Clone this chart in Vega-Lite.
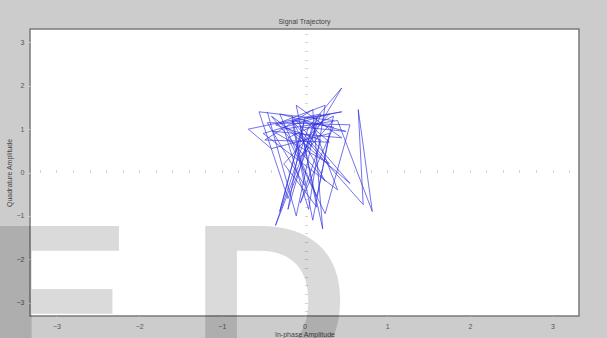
{
  "$schema": "https://vega.github.io/schema/vega-lite/v6.json",
  "width": 549,
  "height": 287,
  "autosize": "none",
  "padding": {"left": 30, "top": 29, "right": 28, "bottom": 22},
  "background": "#cccccc",
  "title": {"text": "Signal Trajectory", "fontSize": 7, "font": "Liberation Sans", "fontWeight": "normal", "color": "#444444", "offset": 4},
  "config": {
    "view": {"fill": "white", "stroke": "#7a7a7a", "strokeWidth": 1.5},
    "axis": {"labelFont": "Liberation Sans", "titleFont": "Liberation Sans", "labelFontSize": 7, "titleFontSize": 7, "titleFontWeight": "normal", "labelColor": "#555555", "titleColor": "#444444", "gridColor": "#e4e4e4", "gridWidth": 1, "domain": false, "tickColor": "#cfcfcf", "tickSize": 3}
  },
  "data": {"values": [
    {"i": 1, "I": -0.45, "Q": 1.40},
    {"i": 2, "I": -0.10, "Q": -1.00},
    {"i": 3, "I": 0.15, "Q": 1.25},
    {"i": 4, "I": -0.35, "Q": -1.22},
    {"i": 5, "I": 0.05, "Q": 1.05},
    {"i": 6, "I": 0.45, "Q": 1.95},
    {"i": 7, "I": -0.05, "Q": 0.35},
    {"i": 8, "I": 0.35, "Q": 1.20},
    {"i": 9, "I": -0.55, "Q": 1.40},
    {"i": 10, "I": -0.20, "Q": -0.60},
    {"i": 11, "I": 0.20, "Q": 1.35},
    {"i": 12, "I": -0.68, "Q": 1.00},
    {"i": 13, "I": -0.40, "Q": 0.55},
    {"i": 14, "I": 0.30, "Q": 0.90},
    {"i": 15, "I": 0.10, "Q": -1.10},
    {"i": 16, "I": -0.15, "Q": 1.30},
    {"i": 17, "I": 0.55, "Q": -0.25},
    {"i": 18, "I": -0.30, "Q": 1.15},
    {"i": 19, "I": 0.25, "Q": 1.55},
    {"i": 20, "I": 0.05, "Q": -0.85},
    {"i": 21, "I": -0.25, "Q": 1.00},
    {"i": 22, "I": 0.40, "Q": 1.20},
    {"i": 23, "I": 0.82, "Q": -0.90},
    {"i": 24, "I": 0.65, "Q": 1.45},
    {"i": 25, "I": 0.71, "Q": -0.74},
    {"i": 26, "I": -0.05, "Q": 0.90},
    {"i": 27, "I": -0.30, "Q": -0.90},
    {"i": 28, "I": 0.00, "Q": 1.20},
    {"i": 29, "I": 0.30, "Q": 0.70},
    {"i": 30, "I": -0.48, "Q": 0.75},
    {"i": 31, "I": 0.10, "Q": 1.45},
    {"i": 32, "I": 0.22, "Q": -1.30},
    {"i": 33, "I": -0.05, "Q": 1.05},
    {"i": 34, "I": 0.50, "Q": 0.95},
    {"i": 35, "I": -0.30, "Q": 1.35},
    {"i": 36, "I": 0.15, "Q": -0.55},
    {"i": 37, "I": 0.35, "Q": 1.30},
    {"i": 38, "I": -0.20, "Q": 0.80},
    {"i": 39, "I": 0.25, "Q": -0.95},
    {"i": 40, "I": 0.55, "Q": 1.10},
    {"i": 41, "I": -0.45, "Q": 1.15},
    {"i": 42, "I": 0.00, "Q": -0.30},
    {"i": 43, "I": -0.15, "Q": 1.20},
    {"i": 44, "I": 0.30, "Q": 0.20},
    {"i": 45, "I": -0.38, "Q": 0.95},
    {"i": 46, "I": 0.45, "Q": 0.80},
    {"i": 47, "I": -0.10, "Q": 1.55},
    {"i": 48, "I": 0.15, "Q": -0.80},
    {"i": 49, "I": -0.25, "Q": 0.20},
    {"i": 50, "I": 0.30, "Q": 1.35},
    {"i": 51, "I": -0.50, "Q": 0.90},
    {"i": 52, "I": 0.40, "Q": -0.40},
    {"i": 53, "I": 0.10, "Q": 1.10},
    {"i": 54, "I": -0.20, "Q": -0.85},
    {"i": 55, "I": 0.00, "Q": 1.25},
    {"i": 56, "I": 0.45, "Q": 1.40},
    {"i": 57, "I": -0.35, "Q": 1.10},
    {"i": 58, "I": 0.20, "Q": 0.75},
    {"i": 59, "I": -0.05, "Q": -0.70},
    {"i": 60, "I": 0.35, "Q": 1.05},
    {"i": 61, "I": -0.15, "Q": 1.20},
    {"i": 62, "I": 0.25, "Q": -0.20},
    {"i": 63, "I": -0.40, "Q": 1.30},
    {"i": 64, "I": 0.10, "Q": 0.60}
  ]},
  "layer": [
    {
      "mark": {"type": "point", "opacity": 0},
      "encoding": {
        "x": {"field": "I", "type": "quantitative", "scale": {"domain": [-3.32, 3.32], "nice": false, "zero": false},
              "axis": {"orient": "top", "offset": -143.5, "values": [-3.2, -3, -2.8, -2.6, -2.4, -2.2, -2, -1.8, -1.6, -1.4, -1.2, -1, -0.8, -0.6, -0.4, -0.2, 0, 0.2, 0.4, 0.6, 0.8, 1, 1.2, 1.4, 1.6, 1.8, 2, 2.2, 2.4, 2.6, 2.8, 3, 3.2], "labels": false, "grid": false, "title": null, "tickSize": 3, "tickColor": "#d4d4d4"}},
        "y": {"field": "Q", "type": "quantitative", "scale": {"domain": [-3.31, 3.31], "nice": false, "zero": false},
              "axis": {"orient": "right", "offset": -274.5, "values": [-3.2, -3, -2.8, -2.6, -2.4, -2.2, -2, -1.8, -1.6, -1.4, -1.2, -1, -0.8, -0.6, -0.4, -0.2, 0, 0.2, 0.4, 0.6, 0.8, 1, 1.2, 1.4, 1.6, 1.8, 2, 2.2, 2.4, 2.6, 2.8, 3, 3.2], "labels": false, "grid": false, "title": null, "tickSize": 3, "tickColor": "#d4d4d4"}}
      }
    },
    {
      "mark": {"type": "line", "color": "#2f2fe0", "strokeWidth": 0.8, "opacity": 0.85},
      "encoding": {
        "order": {"field": "i", "type": "quantitative"},
        "x": {"field": "I", "type": "quantitative",
              "axis": {"orient": "bottom", "title": "In-phase Amplitude", "values": [-3, -2, -1, 0, 1, 2, 3], "titlePadding": 1, "labelPadding": 2, "tickSize": 4}},
        "y": {"field": "Q", "type": "quantitative",
              "axis": {"orient": "left", "title": "Quadrature Amplitude", "values": [-3, -2, -1, 0, 1, 2, 3], "titlePadding": 4, "labelPadding": 2, "tickSize": 4}}
      }
    },
    {
      "data": {"values": [{"mark_label": "E"}]},
      "mark": {"type": "text", "font": "Liberation Sans", "fontWeight": "bold", "fontSize": 220, "align": "left", "baseline": "alphabetic", "color": "black", "opacity": 0.14, "clip": false},
      "encoding": {"text": {"field": "mark_label"}, "x": {"datum": -3.86, "axis": null}, "y": {"datum": -4.73, "axis": null}}
    },
    {
      "data": {"values": [{"mark_label": "D"}]},
      "mark": {"type": "text", "font": "Liberation Sans", "fontWeight": "bold", "fontSize": 220, "align": "left", "baseline": "alphabetic", "color": "black", "opacity": 0.14, "clip": false},
      "encoding": {"text": {"field": "mark_label"}, "x": {"datum": -1.38, "axis": null}, "y": {"datum": -4.73, "axis": null}}
    }
  ],
  "resolve": {"axis": {"x": "independent", "y": "independent"}}
}
